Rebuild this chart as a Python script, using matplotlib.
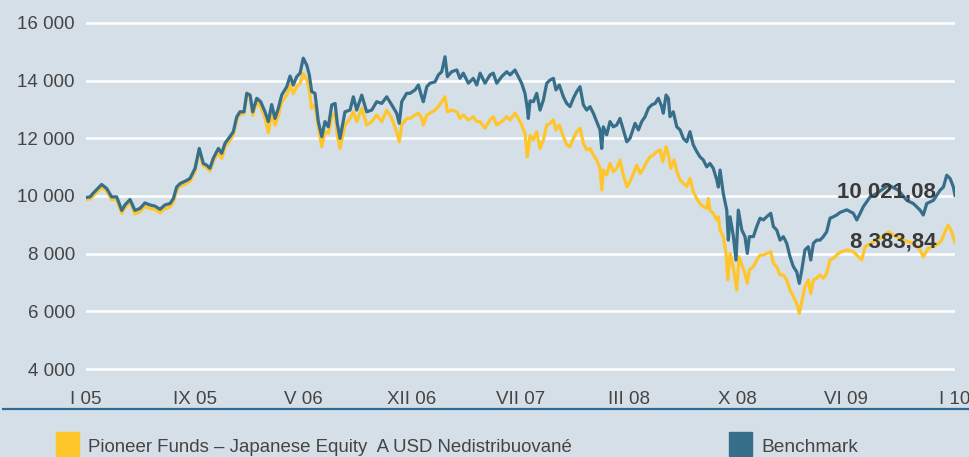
import matplotlib.pyplot as plt
from matplotlib.patches import Rectangle
from matplotlib.lines import Line2D
import matplotlib.font_manager as fm

# months since I 05
bench_months = [
    0.0, 0.28, 0.48, 1.08, 1.43, 1.77, 2.12, 2.47, 2.69, 3.04, 3.38, 3.73, 4.07, 4.42, 4.76,
    5.11, 5.45, 5.80, 6.03, 6.26, 6.49, 6.95, 7.18, 7.53, 7.82, 8.10, 8.33, 8.56, 8.79, 9.14,
    9.37, 9.60, 9.94, 10.17, 10.41, 10.63, 10.91, 11.10, 11.33, 11.51, 11.79, 12.06, 12.36,
    12.59, 12.82, 13.05, 13.28, 13.51, 13.86, 14.09, 14.31, 14.55, 14.78, 15.00, 15.24, 15.42,
    15.58, 15.81, 16.04, 16.28, 16.50, 16.73, 16.97, 17.20, 17.35, 17.54, 17.88, 18.23, 18.46,
    18.69, 19.04, 19.38, 19.73, 20.07, 20.42, 20.76, 21.11, 21.45, 21.63, 21.80, 22.14, 22.37,
    22.72, 22.95, 23.18, 23.29, 23.53, 23.75, 24.10, 24.33, 24.56, 24.79, 24.95, 25.25, 25.60,
    25.82, 26.05, 26.40, 26.74, 26.98, 27.21, 27.55, 27.90, 28.12, 28.36, 28.70, 29.05, 29.28,
    29.62, 29.85, 30.08, 30.31, 30.47, 30.54, 30.66, 30.89, 31.12, 31.35, 31.58, 31.81, 32.04,
    32.27, 32.45, 32.68, 32.96, 33.19, 33.42, 33.65, 33.88, 34.11, 34.34, 34.57, 34.80, 35.03,
    35.26, 35.49, 35.61, 35.72, 35.95, 36.18, 36.41, 36.64, 36.87, 37.10, 37.34, 37.56, 37.91,
    38.14, 38.37, 38.60, 38.83, 39.06, 39.29, 39.52, 39.75, 39.86, 40.05, 40.21, 40.32, 40.55,
    40.79, 41.02, 41.24, 41.48, 41.70, 41.93, 42.17, 42.39, 42.62, 42.86, 43.08, 43.31, 43.55,
    43.66, 43.78, 44.00, 44.24, 44.35, 44.47, 44.58, 44.70, 44.88, 45.04, 45.28, 45.50, 45.66,
    45.80, 46.08, 46.31, 46.54, 46.77, 47.00, 47.28, 47.46, 47.69, 47.92, 48.15, 48.38, 48.61,
    48.84, 49.07, 49.25, 49.42, 49.64, 49.87, 50.04, 50.22, 50.45, 50.68, 50.91, 51.14, 51.37,
    51.60, 51.83, 52.06, 52.53, 52.98, 53.22, 53.45, 53.67, 54.14, 54.60, 55.40, 56.09, 56.67,
    57.12, 57.59, 57.81, 58.05, 58.51, 58.97, 59.20, 59.43, 59.66, 59.89, 60.0,
]
bench_values = [
    9950, 9970, 10090, 10400, 10260, 9970, 9970, 9500, 9690, 9880, 9500, 9570, 9760, 9690, 9650,
    9540, 9690, 9740, 9910, 10310, 10430, 10540, 10610, 10960, 11650, 11130, 11070, 10960, 11310, 11650,
    11480, 11830, 12060, 12230, 12750, 12920, 12920, 13560, 13500, 12920, 13390, 13270, 12920,
    12580, 13170, 12690, 13040, 13500, 13790, 14160, 13850, 14140, 14260, 14780, 14540, 14200,
    13620, 13560, 12580, 12060, 12580, 12400, 13160, 13210, 12520, 12000, 12920, 12980, 13440,
    12980, 13500, 12920, 12980, 13270, 13210, 13440, 13160, 12870, 12520, 13270, 13560, 13560,
    13680, 13850, 13440, 13270, 13790, 13910, 13960, 14200, 14310, 14830, 14140, 14310, 14370,
    14080, 14260, 13910, 14080, 13850, 14260, 13910, 14200, 14260, 13910, 14140, 14310, 14200,
    14370, 14140, 13910, 13560, 13040, 12690, 13300, 13270, 13560, 12980, 13330, 13910, 14020,
    14080, 13680, 13850, 13440, 13210, 13100, 13390, 13620, 13790, 13160, 12980, 13100, 12870,
    12580, 12290, 11650, 12400, 12120, 12580, 12400, 12460, 12690, 12290, 11880, 12000, 12520,
    12290, 12580, 12750, 13040, 13160, 13210, 13390, 13100, 12870, 13500, 13390, 12750, 12920,
    12400, 12290, 12000, 11880, 12230, 11770, 11540, 11360, 11250, 11010, 11130, 10960, 10560,
    10310, 10900, 10090, 9510, 8470, 9280, 8940, 8590, 7780, 9510, 8820, 8590, 8010,
    8590, 8590, 8940, 9230, 9170, 9280, 9400, 8940, 8820, 8470, 8590, 8360, 7890,
    7550, 7370, 6970, 7430, 8130, 8240, 7780, 8360, 8470, 8470, 8590, 8760, 9230,
    9280, 9340, 9430, 9520, 9400, 9170, 9400, 9630, 9970, 10090, 10380, 10200, 9850,
    9740, 9510, 9340, 9740, 9850, 10200, 10310, 10720, 10610, 10310, 10021.08,
]

fund_months = [
    0.0, 0.28, 0.48, 1.08, 1.43, 1.77, 2.12, 2.47, 2.69, 3.04, 3.38, 3.73, 4.07, 4.42, 4.76,
    5.11, 5.45, 5.80, 6.03, 6.26, 6.49, 6.95, 7.18, 7.53, 7.82, 8.10, 8.33, 8.56, 8.79, 9.14,
    9.37, 9.60, 9.94, 10.17, 10.41, 10.63, 10.91, 11.10, 11.33, 11.51, 11.79, 12.06, 12.36,
    12.59, 12.82, 13.05, 13.28, 13.51, 13.86, 14.09, 14.31, 14.55, 14.78, 15.00, 15.24, 15.42,
    15.58, 15.81, 16.04, 16.28, 16.50, 16.73, 16.97, 17.20, 17.35, 17.54, 17.88, 18.23, 18.46,
    18.69, 19.04, 19.38, 19.73, 20.07, 20.42, 20.76, 21.11, 21.45, 21.63, 21.80, 22.14, 22.37,
    22.72, 22.95, 23.18, 23.29, 23.53, 23.75, 24.10, 24.33, 24.56, 24.79, 24.95, 25.25, 25.60,
    25.82, 26.05, 26.40, 26.74, 26.98, 27.21, 27.55, 27.90, 28.12, 28.36, 28.70, 29.05, 29.28,
    29.62, 29.85, 30.08, 30.31, 30.47, 30.54, 30.66, 30.89, 31.12, 31.35, 31.58, 31.81, 32.04,
    32.27, 32.45, 32.68, 32.96, 33.19, 33.42, 33.65, 33.88, 34.11, 34.34, 34.57, 34.80, 35.03,
    35.26, 35.49, 35.61, 35.72, 35.95, 36.18, 36.41, 36.64, 36.87, 37.10, 37.34, 37.56, 37.79,
    38.03, 38.26, 38.49, 38.72, 38.95, 39.17, 39.41, 39.64, 39.82, 40.05, 40.21, 40.38, 40.61,
    40.79, 41.02, 41.24, 41.48, 41.70, 41.93, 42.17, 42.39, 42.62, 42.86, 42.97, 43.08, 43.31,
    43.55, 43.66, 43.78, 44.00, 44.19, 44.31, 44.47, 44.65, 44.76, 44.93, 45.09, 45.28, 45.46,
    45.66, 45.80, 46.08, 46.31, 46.54, 46.77, 47.00, 47.28, 47.46, 47.69, 47.92, 48.15, 48.38,
    48.61, 48.84, 49.07, 49.25, 49.42, 49.64, 49.87, 50.04, 50.22, 50.45, 50.68, 50.91, 51.14,
    51.37, 51.60, 51.83, 52.06, 52.53, 52.98, 53.33, 53.56, 53.79, 54.36, 55.05, 55.40, 55.74,
    56.43, 57.12, 57.59, 57.81, 58.16, 58.74, 59.08, 59.31, 59.53, 59.77, 60.0,
]
fund_values = [
    9880, 9900, 10000, 10300, 10170, 9880, 9880, 9400, 9600, 9790, 9380, 9460, 9640, 9570, 9530,
    9420, 9560, 9620, 9790, 10200, 10330, 10440, 10510, 10860, 11550, 11040, 10980, 10870, 11200, 11520,
    11300, 11700, 11930, 12120, 12650, 12830, 12860, 13580, 13450, 12800, 13280, 13100, 12700,
    12200, 12900, 12450, 12780, 13250, 13500, 13850, 13550, 13800, 13900, 14250, 14050, 13650,
    13040, 13160, 12400, 11710, 12230, 12170, 12750, 12870, 12120, 11650, 12460, 12690, 12920,
    12580, 13040, 12460, 12580, 12810, 12580, 12980, 12690, 12230, 11880, 12460, 12690, 12690,
    12810, 12870, 12700, 12460, 12810, 12870, 12980, 13100, 13270, 13440, 12920, 12980, 12920,
    12690, 12810, 12640, 12750, 12580, 12580, 12350, 12640, 12750, 12460, 12580, 12750, 12640,
    12870, 12690, 12460, 12170, 11360, 11600, 12100, 11940, 12230, 11650, 11940, 12460, 12520,
    12640, 12290, 12460, 12060, 11770, 11710, 12000, 12230, 12350, 11830, 11600, 11650, 11420,
    11250, 10960, 10210, 10900, 10730, 11130, 10840, 10960, 11250, 10730, 10320, 10500, 10780,
    11070, 10780, 10960, 11190, 11360, 11420, 11540, 11600, 11190, 11710, 11420, 10960, 11250,
    10840, 10560, 10440, 10330, 10610, 10150, 9910, 9740, 9630, 9570, 9910, 9510, 9400,
    9170, 9280, 8820, 8590, 8010, 7090, 8010, 7610, 7320, 6740, 7890, 7610, 7370,
    6970, 7430, 7550, 7780, 7950, 7950, 8010, 8070, 7660, 7550, 7260, 7260, 7090,
    6740, 6510, 6280, 5930, 6330, 6850, 7090, 6620, 7090, 7150, 7260, 7150, 7320,
    7780, 7840, 7950, 8050, 8130, 8070, 7890, 7780, 8240, 8410, 8590, 8760, 8650,
    8470, 8360, 8130, 7890, 8190, 8300, 8470, 8760, 8990, 8760, 8383.84,
]

tick_labels = ["I 05", "IX 05", "V 06", "XII 06", "VII 07", "III 08", "X 08", "VI 09", "I 10"]
y_ticks = [4000, 6000, 8000, 10000, 12000, 14000, 16000]

fund_name = "Pioneer Funds – Japanese Equity  A USD Nedistribuované"
bench_name = "Benchmark"
fund_last = "8 383,84"
bench_last = "10 021,08"

BG = "#d5dfe7"
BLUE = "#376f8b"
YELLOW = "#ffc62b"
TXT = "#444444"

names = {f.name for f in fm.fontManager.ttflist}
family = ["Liberation Sans Narrow", "DejaVu Sans"] if "Liberation Sans Narrow" in names else ["Liberation Sans", "DejaVu Sans"]
plt.rcParams["font.family"] = family

W, H = 969, 457
fig = plt.figure(figsize=(W / 100, H / 100), dpi=100, facecolor=BG)
ax = fig.add_axes([86 / W, 1 - 371.9 / H, 869 / W, 351.8 / H])
ax.set_facecolor(BG)
for s in ax.spines.values():
    s.set_visible(False)

ax.set_xlim(0, 60)
ax.set_ylim(3900, 16100)
ax.set_yticks(y_ticks)
ax.set_yticklabels([f"{v:,}".replace(",", " ") for v in y_ticks])
ax.set_xticks([i * 7.5 for i in range(len(tick_labels))])
ax.set_xticklabels(tick_labels)
ax.tick_params(length=0, labelsize=13.5, colors=TXT)
ax.tick_params(axis="y", pad=8)
ax.tick_params(axis="x", pad=14)
ax.grid(axis="y", color="white", linewidth=1.8)
ax.set_axisbelow(True)

ax.plot(fund_months, fund_values, color=YELLOW, lw=2.3, solid_joinstyle="round", zorder=3)
ax.plot(bench_months, bench_values, color=BLUE, lw=2.3, solid_joinstyle="round", zorder=4)

ax.annotate(bench_last, xy=(bench_months[-1], bench_values[-1]), xytext=(-19, 3),
            textcoords="offset pixels", ha="right", va="center", fontsize=16,
            fontweight="bold", color="#3a3a3a", zorder=5)
ax.annotate(fund_last, xy=(fund_months[-1], fund_values[-1]), xytext=(-19, 1),
            textcoords="offset pixels", ha="right", va="center", fontsize=16,
            fontweight="bold", color="#3a3a3a", zorder=5)

# separator and legend
fig.add_artist(Line2D([3 / W, 1], [1 - 409 / H, 1 - 409 / H], color="#2c6b98", lw=1.6))
fig.add_artist(Rectangle((56 / W, 1 - 456 / H), 23 / W, 24 / H, color=YELLOW, transform=fig.transFigure))
fig.text(88 / W, 1 - 447 / H, fund_name, fontsize=13.4, color=TXT, va="center")
fig.add_artist(Rectangle((729 / W, 1 - 456 / H), 23 / W, 24 / H, color=BLUE, transform=fig.transFigure))
fig.text(761 / W, 1 - 447 / H, bench_name, fontsize=13.8, color=TXT, va="center")

fig.savefig("out.png", dpi=100, facecolor=BG)
